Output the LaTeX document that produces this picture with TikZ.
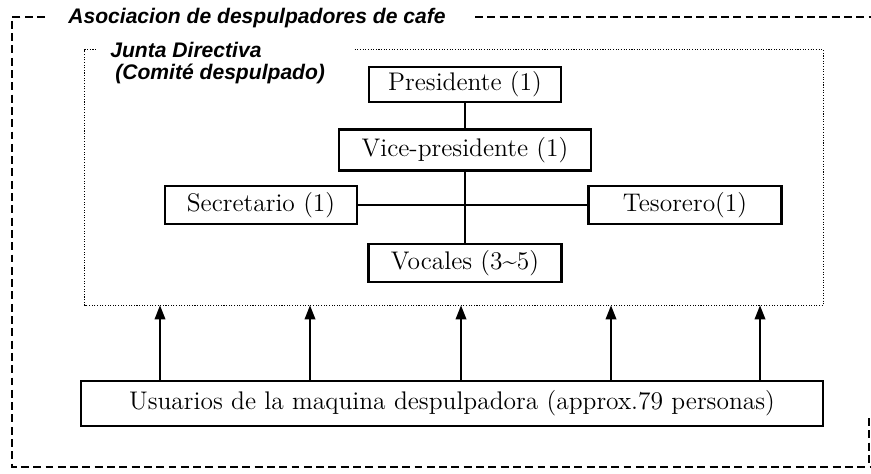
\documentclass[tikz,border=0pt]{standalone}
\usepackage{fontspec}
\setsansfont{Liberation Sans}
\usetikzlibrary{arrows.meta}
\usetikzlibrary{calc}
\definecolor{tinta}{RGB}{0,0,0}

\begin{document}
\begin{tikzpicture}[x=0.02cm, y=-0.02cm, tinta,
    cargo/.style={draw, line width=1.2pt, minimum height=0.76cm, inner sep=0pt, font=\fontsize{14.5}{17}\selectfont},
    linea/.style={line width=0.9pt},
    flecha/.style={line width=1.1pt, -{Triangle[length=8pt,width=6pt]}},
    rotulo/.style={font=\sffamily\bfseries\itshape\fontsize{12}{14}\selectfont, inner sep=0pt, anchor=base west},
    marco/.style={line width=0.9pt, dash pattern=on 4.5pt off 2.5pt},
    puntos/.style={line width=0.6pt, dash pattern=on 0.6pt off 0.9pt}]

    \useasboundingbox (0,0) rectangle (871,473);

    % outer frame
    \node[rotulo] (titulo) at (68,24) {Asociacion de despulpadores de cafe};
    \draw[marco] (45,17) -- (12,17) -- (12,467) -- (871,467);
    \draw[marco] (475,17) -- (871,17);
    \draw[marco] (869,418) -- (869,467);

    % junta directiva
    \node[minimum width=14.76cm, minimum height=5.1cm, inner sep=0pt] (directiva) at (454,177.5) {};
    \draw[puntos] ($(directiva.north west)+(270,0)$) -- (directiva.north east) -- (directiva.south east)
        -- (directiva.south west) -- (directiva.north west) -- ++(12,0);
    \node[rotulo] (junta) at (110,58) {Junta Directiva};
    \node[rotulo] (comite) at (115,80) {(Comité despulpado)};

    \node[cargo, minimum width=3.84cm, minimum height=0.7cm] (presidente) at (465,84.5) {Presidente (1)};
    \node[cargo, minimum width=5.04cm, minimum height=0.82cm] (vice) at (465,150) {Vice-presidente (1)};
    \node[cargo, minimum width=3.84cm] (secretario) at (261,205) {Secretario (1)};
    \node[cargo, minimum width=3.86cm] (tesorero) at (685,205) {Tesorero(1)};
    \node[cargo, minimum width=3.86cm] (vocales) at (465,263) {Vocales (3\textasciitilde5)};

    \draw[linea] (presidente) -- (vice) -- (vocales);
    \draw[linea] (secretario) -- (tesorero);

    % usuarios
    \node[cargo, minimum width=14.84cm, minimum height=0.9cm] (usuarios) at (452,403.5)
        {Usuarios de la maquina despulpadora (approx.79 personas)};

    \foreach \x [count=\i] in {160,310,461,611,760} {
        \path (\x,0) coordinate (c\i);
        \draw[flecha] (usuarios.north -| c\i) -- (directiva.south -| c\i);
    }

\end{tikzpicture}
\end{document}
